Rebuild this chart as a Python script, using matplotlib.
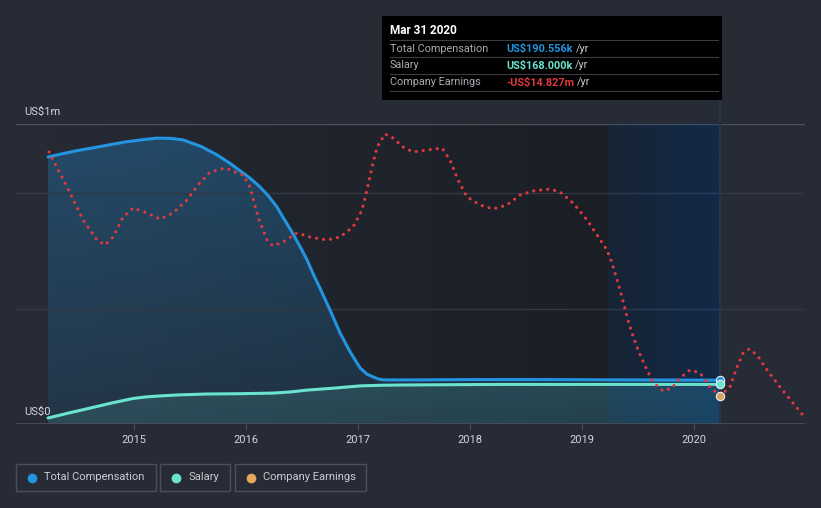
import matplotlib
matplotlib.use("Agg")
import matplotlib.pyplot as plt
import numpy as np
from matplotlib.colors import to_rgb
from matplotlib.patches import Rectangle
from matplotlib.lines import Line2D

plt.rcParams["font.family"] = ["Roboto", "DejaVu Sans"]

# --- data ---
# total compensation (US$k) and salary (US$k), Mar 2014 .. Mar 2020
comp_years = [2014.232, 2014.35, 2014.473, 2014.67, 2014.8, 2014.92, 2015.06, 2015.205, 2015.33,
              2015.438, 2015.6, 2015.741, 2015.86, 2015.973, 2016.05, 2016.125, 2016.2, 2016.277,
              2016.34, 2016.41, 2016.48, 2016.545, 2016.6, 2016.66, 2016.75, 2016.84, 2016.93,
              2016.98, 2017.018, 2017.08, 2017.134, 2017.18, 2017.223, 2017.554, 2018.0,
              2018.71, 2019.34, 2020.232]
comp_values = [890, 900, 910, 923, 932, 940, 947, 953, 952,
               947, 925, 897, 868, 837, 815, 790, 760, 723,
               683, 640, 593, 547, 500, 453, 380, 303, 240,
               210, 187, 166, 157, 150, 147, 147, 148,
               148, 147, 146]

salary_years = [2014.232, 2014.42, 2014.607, 2014.8, 2014.99, 2015.1, 2015.205, 2015.4, 2015.652,
                2015.95, 2016.241, 2016.4, 2016.545, 2016.8, 2017.018, 2017.2, 2017.375,
                2018.27, 2019.34, 2020.232]
salary_values = [20, 37, 53, 70, 85, 90, 93, 97, 100, 101, 103, 107, 113, 120, 127, 129, 130,
                 132, 132, 132]

# company earnings (US$m)
earn_years = [2014.241, 2014.277, 2014.402, 2014.545, 2014.67, 2014.741, 2014.813, 2014.902,
              2014.991, 2015.116, 2015.232, 2015.348, 2015.473, 2015.571, 2015.679, 2015.813,
              2015.973, 2016.036, 2016.107, 2016.188, 2016.241, 2016.33, 2016.455, 2016.571,
              2016.723, 2016.839, 2016.955, 2017.036, 2017.08, 2017.125, 2017.17, 2017.241,
              2017.313, 2017.402, 2017.491, 2017.616, 2017.75, 2017.821, 2017.893, 2017.973,
              2018.089, 2018.205, 2018.33, 2018.446, 2018.563, 2018.714, 2018.804, 2018.92,
              2019.045, 2019.152, 2019.223, 2019.268, 2019.313, 2019.357, 2019.402, 2019.446,
              2019.5, 2019.58, 2019.634, 2019.723, 2019.804, 2019.875, 2019.964, 2020.054,
              2020.143, 2020.232, 2020.321, 2020.384, 2020.438, 2020.491, 2020.563, 2020.652,
              2020.768, 2020.884, 2020.964]
earn_values = [12.83, 11.92, 8.86, 5.12, 2.85, 2.29, 3.19, 5.46,
               6.48, 5.91, 5.23, 5.91, 7.39, 9.09, 10.56, 11.01,
               10.22, 8.86, 5.46, 2.85, 2.17, 2.63, 3.65, 3.19,
               2.85, 3.19, 4.33, 6.25, 8.52, 11.13, 13.39, 14.87,
               14.41, 13.39, 12.83, 13.05, 13.28, 11.92, 9.65, 7.73,
               6.82, 6.37, 6.82, 7.95, 8.41, 8.63, 8.29, 7.05,
               5.12, 3.08, 1.72, 0.25, -1.68, -3.61, -5.87, -7.69,
               -9.61, -11.88, -13.24, -14.26, -13.92, -12.79, -11.88, -12.22,
               -13.81, -14.83, -13.81, -11.54, -9.95, -9.5, -10.18, -11.88,
               -13.81, -15.62, -16.87]

year_ticks = [2015, 2016, 2017, 2018, 2019, 2020]
tooltip_rows = [("Total Compensation", "US$190.556k"),
                ("Salary", "US$168.000k"),
                ("Company Earnings", "-US$14.827m")]
legend_labels = ["Total Compensation", "Salary", "Company Earnings"]

# --- style ---
BG = "#262B36"
BLUE = "#2394DF"
TEAL = "#6BE4CF"
RED = "#E0393E"
ORANGE = "#E6A95C"
TXT = "#D3D6DB"
LINE = "#4B505A"

W, H = 821, 508
fig = plt.figure(figsize=(W / 100, H / 100), dpi=100)
fig.patch.set_facecolor(BG)


def fx(px):
    return px / W


def fy(py):
    return 1 - py / H


ax = fig.add_axes([fx(16), fy(424), fx(805) - fx(16), fy(124) - fy(424)])
ax.set_facecolor(BG)
for s in ax.spines.values():
    s.set_visible(False)

hl_end = comp_years[-1]
hl_start = hl_end - 1

# darker past region, fading to the right
bg_img = np.zeros((1, 256, 3))
c0, c1 = np.array(to_rgb("#252A34")), np.array(to_rgb("#191C22"))
t = np.linspace(0, 1, 256)[:, None]
bg_img[0] = c0 * (1 - t) + c1 * t
ax.imshow(bg_img, extent=[comp_years[0], hl_end, 0, 1000], aspect="auto", zorder=0.2)


def grad_fill(x, y, color, a_top, a_bot, z):
    poly = ax.fill_between(x, 0, y, facecolor="none", edgecolor="none", zorder=z)
    img = np.zeros((256, 1, 4))
    img[:, :, :3] = to_rgb(color)
    img[:, 0, 3] = np.linspace(a_top, a_bot, 256)
    im = ax.imshow(img, extent=[x[0], x[-1], 0, 1000], aspect="auto", origin="upper", zorder=z)
    im.set_clip_path(poly.get_paths()[0], transform=ax.transData)


grad_fill(comp_years, comp_values, BLUE, 0.32, 0.12, 1)
grad_fill(salary_years, salary_values, TEAL, 0.3, 0.12, 1.1)

# highlighted last period (gets bluer to the right)
hl_img = np.zeros((1, 128, 4))
hl_img[0, :, :3] = to_rgb("#0052B4")
hl_img[0, :, 3] = np.linspace(0.12, 0.26, 128)
ax.imshow(hl_img, extent=[hl_start, hl_end, 0, 1000], aspect="auto", zorder=1.5)
ax.axvline(hl_end, ymin=0, ymax=1.08, color="#25364C", lw=1.6, zorder=1.6, clip_on=False)

# grid
for gv in (383, 770):
    ax.axhline(gv, color="#343843", lw=1, zorder=1.2)
ax.axhline(1000, color=LINE, lw=1, zorder=1.2)
ax.axhline(0, color=LINE, lw=1.2, zorder=3)

ax.plot(comp_years, comp_values, color=BLUE, lw=2.2, zorder=4, solid_capstyle="round",
        solid_joinstyle="round")
ax.plot(salary_years, salary_values, color=TEAL, lw=2.2, zorder=4, solid_capstyle="round",
        solid_joinstyle="round")
ax.plot(comp_years[-1], comp_values[-1], "o", ms=6, color=BLUE, mec="#E8EEF5", mew=0.8, zorder=5)
ax.plot(salary_years[-1], salary_values[-1], "o", ms=6, color=TEAL, mec="#E8EEF5", mew=0.8, zorder=5)

ax.set_xlim(2013.946, 2020.991)
ax.set_ylim(0, 1000)
ax.set_xticks(year_ticks)
ax.set_xticklabels([str(y) for y in year_ticks])
ax.set_yticks([])
ax.tick_params(axis="x", length=4, color=LINE, labelcolor=TXT, labelsize=8, pad=4)

ax2 = ax.twinx()
ax2.set_ylim(-18, 16)
ax2.set_yticks([])
for s in ax2.spines.values():
    s.set_visible(False)
ax2.plot(earn_years, earn_values, color=RED, lw=2.3, linestyle=(0, (0.01, 2.2)),
         dash_capstyle="round", zorder=4)
ax2.plot(hl_end, earn_values[earn_years.index(hl_end)], "o", ms=6, color="#D9A262",
         mec="#E8EEF5", mew=0.8, zorder=5)

fig.text(fx(24), fy(112), "US$1m", color=TXT, fontsize=8, va="center")
fig.text(fx(24), fy(412), "US$0", color=TXT, fontsize=8, va="center")

# tooltip
fig.add_artist(Rectangle((fx(382), fy(100)), fx(722) - fx(382), fy(16) - fy(100),
                         transform=fig.transFigure, facecolor="black", edgecolor="none"))
fig.text(fx(390), fy(31), "Mar 31 2020", color="white", fontsize=8.5, fontweight="bold", va="center")
renderer = fig.canvas.get_renderer()
row_colors = [BLUE, TEAL, RED]
for i, (lab, val) in enumerate(tooltip_rows):
    ytop = 40 + i * 17
    fig.add_artist(Line2D([fx(390), fx(718)], [fy(ytop), fy(ytop)], color="#3A3D44", lw=0.8,
                          transform=fig.transFigure))
    fig.text(fx(390), fy(ytop + 8.5), lab, color="#A9ADB4", fontsize=7.8, va="center")
    tv = fig.text(fx(506), fy(ytop + 8.5), val, color=row_colors[i], fontsize=7.8,
                  fontweight="bold", va="center")
    bb = tv.get_window_extent(renderer)
    fig.text(bb.x1 / W + fx(3), fy(ytop + 8.5), "/yr", color="#C9CCD1", fontsize=7.8, va="center")
fig.add_artist(Line2D([fx(390), fx(718)], [fy(91), fy(91)], color="#3A3D44", lw=0.8,
                      transform=fig.transFigure))

# legend
boxes = [(16, 156), (160, 230), (235, 366)]
dot_colors = [BLUE, TEAL, ORANGE]
for (x0, x1), lab, dc in zip(boxes, legend_labels, dot_colors):
    fig.add_artist(Rectangle((fx(x0), fy(491)), fx(x1) - fx(x0), fy(464) - fy(491),
                             transform=fig.transFigure, facecolor="none", edgecolor="#4A4F59", lw=1))
    fig.add_artist(Line2D([fx(x0 + 16)], [fy(477.5)], marker="o", ms=6, color=dc, lw=0,
                          transform=fig.transFigure))
    fig.text(fx(x0 + 28), fy(477.5), lab, color="#C9CDD3", fontsize=8, va="center")

fig.savefig("out.png", dpi=100, facecolor=BG)
